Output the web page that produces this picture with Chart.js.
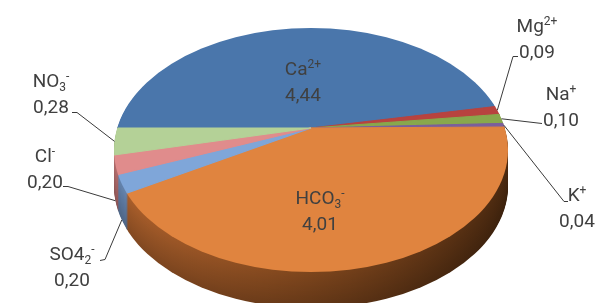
<!DOCTYPE html>
<html>
<head>
<meta charset="utf-8">
<script src="https://cdn.jsdelivr.net/npm/chart.js@4.4.1/dist/chart.umd.min.js"></script>
<style>
  html, body { margin: 0; padding: 0; background: #fff; }
  canvas { display: block; }
</style>
</head>
<body>
<canvas id="pie" width="597" height="303"></canvas>
<script>
// ^{..} = superscript, _{..} = subscript
const categories = ['Ca^{2+}', 'Mg^{2+}', 'Na^{+}', 'K^{+}', 'HCO_{3}^{-}', 'SO4_{2}^{-}', 'Cl^{-}', 'NO_{3}^{-}'];
const values = [4.44, 0.09, 0.10, 0.04, 4.01, 0.20, 0.20, 0.28];
const topColors = ['#4a76ab', '#b8433f', '#88a84c', '#7b5f9c', '#e0843f', '#7fa6d9', '#e08c8c', '#b4d197'];
const sideColors = ['#2e5080', '#8a2f2c', '#637d34', '#5a4575', null, '#6684ad', '#b46e6e', '#8fa876'];

// label placement: centre x, baseline of first line, leader elbows, leader ends on side wall
const labelLayout = [
  { cx: 303, y: 75 },
  { cx: 537, y: 32, elbow: [[518, 56], [513, 56]] },
  { cx: 561, y: 100, elbow: [[542, 123]] },
  { cx: 577, y: 201, elbow: [[568, 201], [564, 201]] },
  { cx: 320, y: 204 },
  { cx: 72, y: 260, elbow: [[100, 260], [105, 259]], side: true },
  { cx: 45, y: 162, elbow: [[63, 186], [68, 186]], side: true },
  { cx: 51, y: 87, elbow: [[72, 112], [77, 112]] }
];

// outline of the top face, and the point where the slices meet (fake perspective)
const rim = { cx: 311, cy: 150, rx: 197, ry: 122, depth: 36 };
const hub = { x: 311, y: 128, rx: 215, ry: 155 };

const textColor = '#404040';
const bigFont = '19px Roboto';
const smallFont = '12px Roboto';

function plain(s) {
  return s.replace(/[\^_]\{([^}]*)\}/g, '$1');
}

function parseRich(s) {
  const parts = [];
  const re = /([\^_])\{([^}]*)\}|([^\^_]+)/g;
  let m;
  while ((m = re.exec(s))) {
    if (m[3]) parts.push({ t: m[3], k: 'n' });
    else parts.push({ t: m[2], k: m[1] === '^' ? 'sup' : 'sub' });
  }
  return parts;
}

function drawRich(ctx, parts, cx, y) {
  let w = 0;
  parts.forEach(p => {
    ctx.font = p.k === 'n' ? bigFont : smallFont;
    p.w = ctx.measureText(p.t).width;
    w += p.w;
  });
  let x = cx - w / 2;
  parts.forEach(p => {
    ctx.font = p.k === 'n' ? bigFont : smallFont;
    const dy = p.k === 'sup' ? -7 : p.k === 'sub' ? 4 : 0;
    ctx.fillText(p.t, x, y + dy);
    x += p.w;
  });
}

function shade(hex, f) {
  const n = parseInt(hex.slice(1), 16);
  const r = Math.round(((n >> 16) & 255) * f);
  const g = Math.round(((n >> 8) & 255) * f);
  const b = Math.round((n & 255) * f);
  return `rgb(${r},${g},${b})`;
}

function setPieTransform(ctx, el, dy) {
  ctx.translate(hub.x, hub.y + dy);
  ctx.scale(hub.rx / el.outerRadius, hub.ry / el.outerRadius);
  ctx.translate(-el.x, -el.y);
}

function clipRim(ctx, dy) {
  ctx.beginPath();
  ctx.ellipse(rim.cx, rim.cy + dy, rim.rx, rim.ry, 0, 0, Math.PI * 2);
  ctx.clip();
}

// brown wall of the big slice, lighter on the left
function brownSide(ctx, el, f) {
  const ux = X => el.x + (X - hub.x) * el.outerRadius / hub.rx;
  const g = ctx.createLinearGradient(ux(rim.cx - rim.rx), 0, ux(rim.cx + rim.rx), 0);
  g.addColorStop(0, shade('#ac602c', f));
  g.addColorStop(0.45, shade('#82481e', f));
  g.addColorStop(1, shade('#4c2a10', f));
  return g;
}

// point on the rim in the direction of a slice angle
function rimPoint(angle) {
  const dx = hub.rx * Math.cos(angle), dy = hub.ry * Math.sin(angle);
  const ox = hub.x - rim.cx, oy = hub.y - rim.cy;
  const a = (dx / rim.rx) ** 2 + (dy / rim.ry) ** 2;
  const b = 2 * (ox * dx / rim.rx ** 2 + oy * dy / rim.ry ** 2);
  const c = (ox / rim.rx) ** 2 + (oy / rim.ry) ** 2 - 1;
  const t = (-b + Math.sqrt(b * b - 4 * a * c)) / (2 * a);
  return [hub.x + t * dx, hub.y + t * dy];
}

const pie3d = {
  id: 'pie3d',
  beforeDatasetsDraw(chart) {
    const ctx = chart.ctx;
    const arcs = chart.getDatasetMeta(0).data;
    const el = arcs[0];
    for (let d = rim.depth; d >= 1; d--) {
      const f = 1 - 0.22 * d / rim.depth;
      ctx.save();
      clipRim(ctx, d);
      setPieTransform(ctx, el, d);
      arcs.forEach((a, i) => {
        ctx.beginPath();
        ctx.moveTo(a.x, a.y);
        ctx.arc(a.x, a.y, a.outerRadius, a.startAngle, a.endAngle);
        ctx.closePath();
        const col = i === 4 ? brownSide(ctx, el, f) : shade(sideColors[i], f);
        ctx.fillStyle = col;
        ctx.strokeStyle = col;
        ctx.lineWidth = 1;
        ctx.fill();
        ctx.stroke();
      });
      ctx.restore();
    }
    // top face: the library draws the arcs under this clip + transform
    ctx.save();
    clipRim(ctx, 0);
    setPieTransform(ctx, el, 0);
  },
  afterDatasetsDraw(chart) {
    chart.ctx.restore();
  },
  afterDraw(chart) {
    const ctx = chart.ctx;
    const arcs = chart.getDatasetMeta(0).data;
    ctx.save();
    ctx.strokeStyle = '#3a3a3a';
    ctx.lineWidth = 1;
    labelLayout.forEach((lay, i) => {
      if (!lay.elbow) return;
      const a = arcs[i];
      const p = rimPoint((a.startAngle + a.endAngle) / 2);
      if (lay.side) p[1] += rim.depth;
      ctx.beginPath();
      ctx.moveTo(lay.elbow[0][0], lay.elbow[0][1] + 0.5);
      lay.elbow.slice(1).forEach(e => ctx.lineTo(e[0], e[1] + 0.5));
      ctx.lineTo(p[0], p[1]);
      ctx.stroke();
    });
    ctx.fillStyle = textColor;
    ctx.textAlign = 'left';
    ctx.textBaseline = 'alphabetic';
    labelLayout.forEach((lay, i) => {
      drawRich(ctx, parseRich(categories[i]), lay.cx, lay.y);
      drawRich(ctx, [{ t: values[i].toFixed(2).replace('.', ','), k: 'n' }], lay.cx, lay.y + 26);
    });
    ctx.restore();
  }
};

new Chart(document.getElementById('pie'), {
  type: 'pie',
  data: {
    labels: categories.map(plain),
    datasets: [{
      data: values,
      backgroundColor: topColors,
      borderColor: topColors,
      borderWidth: 1,
      clip: false
    }]
  },
  options: {
    responsive: false,
    animation: false,
    events: [],
    rotation: 270,
    layout: { padding: 0 },
    plugins: {
      legend: { display: false },
      tooltip: { enabled: false }
    }
  },
  plugins: [pie3d]
});
</script>
</body>
</html>
